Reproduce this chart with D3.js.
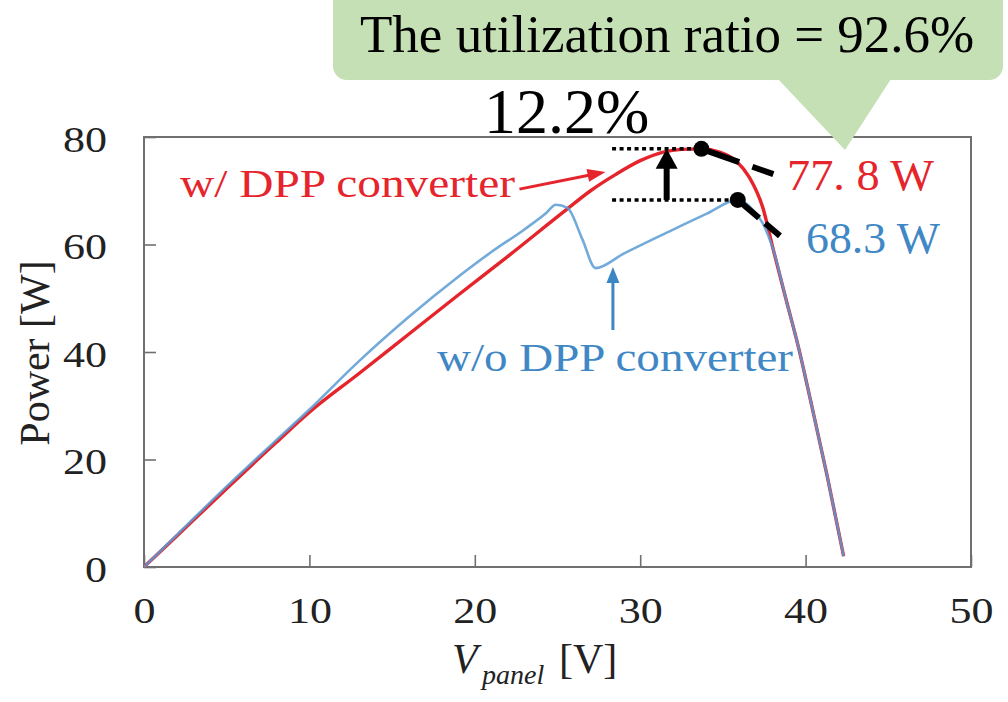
<!DOCTYPE html>
<html>
<head>
<meta charset="utf-8">
<script src="https://cdn.jsdelivr.net/npm/d3@7"></script>
<style>
  html, body { margin: 0; padding: 0; background: #fff; }
  svg { display: block; }
</style>
</head>
<body>
<svg id="chart" width="1008" height="702"></svg>
<script>
// P–V curves of the panel string (voltage in V, power in W)
const withDppV  = [0, 2, 5, 8, 10, 13, 16, 19, 22, 25.5, 27, 28.5, 30, 31.4, 32.5, 33.7, 34.8, 35.85, 36.6, 37.4, 38.05, 38.8, 39.6, 40.3, 41.3, 42.3];
const withDppP  = [0, 5.8, 14.6, 23.2, 28.8, 36, 43.3, 50.6, 57.8, 66.4, 70, 73, 75.6, 77.2, 77.7, 77.8, 77.2, 75.4, 72.5, 67, 59, 50, 40.5, 31, 17, 2];
const withoutDppV = [0, 2, 5, 8, 10, 13, 16, 19, 21, 23, 24.3, 24.9, 25.6, 26.5, 27.3, 29, 31.6, 34, 35.9, 36.8, 37.4, 38.05, 38.8, 39.6, 40.3, 41.3, 42.3];
const withoutDppP = [0, 6, 15, 23.6, 29.3, 38.3, 46.5, 54, 58.6, 62.8, 65.8, 67.4, 66.8, 61, 55.6, 58.3, 62.2, 65.7, 68.3, 66.5, 64, 59, 50, 40.5, 31, 17, 2];

// maximum power points
const mppWith = { v: 33.7, p: 77.8 };
const mppWithout = { v: 35.9, p: 68.3 };

// axis ticks
const xTicks = [0, 10, 20, 30, 40, 50];
const yTicks = [0, 20, 40, 60, 80];

// annotation texts
const calloutText = "The utilization ratio = 92.6%";
const gainText = "12.2%";
const labelWith = "w/ DPP converter";
const labelWithout = "w/o DPP converter";
const valueWith = "77. 8 W";
const valueWithout = "68.3 W";

const RED = "#e5242c";
const BLUE = "#5b9bd3";
const BLUE_TEXT = "#3f88c5";
const SERIF = "'Liberation Serif','Times New Roman',serif";

const svg = d3.select("#chart");

const x = d3.scaleLinear().domain([0, 50]).range([144, 971]);
const y = d3.scaleLinear().domain([0, 80]).range([567, 137]);

// plot frame
svg.append("rect")
  .attr("x", x(0)).attr("y", y(80))
  .attr("width", x(50) - x(0)).attr("height", y(0) - y(80))
  .attr("fill", "#fff").attr("stroke", "#707070").attr("stroke-width", 2);

// axes with inward ticks
const xAxis = svg.append("g")
  .attr("transform", `translate(0,${y(0)})`)
  .call(d3.axisBottom(x).tickValues(xTicks).tickSizeInner(-12).tickSizeOuter(0).tickPadding(30));
const yAxis = svg.append("g")
  .attr("transform", `translate(${x(0)},0)`)
  .call(d3.axisLeft(y).tickValues(yTicks).tickSizeInner(-12).tickSizeOuter(0).tickPadding(37));

[xAxis, yAxis].forEach(g => {
  g.select(".domain").remove();
  g.selectAll(".tick line").attr("stroke", "#707070").attr("stroke-width", 1.6);
  g.selectAll(".tick text")
    .attr("fill", "#222")
    .style("font-family", SERIF)
    .style("font-size", "36px")
    .attr("textLength", d => String(d).length * 22)
    .attr("lengthAdjust", "spacingAndGlyphs");
});
xAxis.selectAll(".tick text").attr("y", 30).attr("dy", "0.71em");
yAxis.selectAll(".tick text").attr("dy", "0.40em");

// axis titles
svg.append("text")
  .attr("transform", `translate(49,${353}) rotate(-90)`)
  .attr("text-anchor", "middle")
  .style("font-family", SERIF).style("font-size", "42px").attr("fill", "#222")
  .text("Power [W]");

const xt = svg.append("text")
  .attr("y", 673)
  .style("font-family", SERIF).attr("fill", "#222");
xt.append("tspan").attr("x", 452).style("font-size", "42px").style("font-style", "italic").text("V");
xt.append("tspan").attr("x", 482).attr("dy", 11).style("font-size", "28px").style("font-style", "italic").text("panel");
xt.append("tspan").attr("x", 559).attr("dy", -11).style("font-size", "42px").text("[V]");

// curves
const line = d3.line()
  .x(d => x(d[0]))
  .y(d => y(d[1]))
  .curve(d3.curveMonotoneX);

const redPts = withDppV.map((v, i) => [v, withDppP[i]]);
const bluePts = withoutDppV.map((v, i) => [v, withoutDppP[i]]);

svg.append("path").datum(redPts)
  .attr("d", line).attr("fill", "none")
  .attr("stroke", RED).attr("stroke-width", 3.4).attr("stroke-linejoin", "round");
svg.append("path").datum(bluePts)
  .attr("d", line).attr("fill", "none")
  .attr("stroke", BLUE).attr("stroke-width", 2.6).attr("stroke-opacity", 0.85)
  .attr("stroke-linejoin", "round");

// arrow helper: shaft from (x0,y0) to tip (x1,y1) with a filled head
function arrow(v0, p0, v1, p1, color, shaftW, headLen, headW) {
  const ax = x(v0), ay = y(p0), bx = x(v1), by = y(p1);
  const dx = bx - ax, dy = by - ay, len = Math.hypot(dx, dy);
  const ux = dx / len, uy = dy / len, nx = -uy, ny = ux;
  const baseX = bx - ux * headLen, baseY = by - uy * headLen;
  svg.append("line")
    .attr("x1", ax).attr("y1", ay).attr("x2", baseX + ux).attr("y2", baseY + uy)
    .attr("stroke", color).attr("stroke-width", shaftW);
  svg.append("path")
    .attr("d", `M${bx},${by}L${baseX + nx * headW / 2},${baseY + ny * headW / 2}L${baseX - nx * headW / 2},${baseY - ny * headW / 2}Z`)
    .attr("fill", color);
}

// dotted guides at the two maximum power levels
const guideStartV = 28.3;
svg.append("line")
  .attr("x1", x(guideStartV)).attr("x2", x(mppWith.v))
  .attr("y1", y(mppWith.p)).attr("y2", y(mppWith.p))
  .attr("stroke", "#000").attr("stroke-width", 3.5).attr("stroke-dasharray", "4,3.5");
svg.append("line")
  .attr("x1", x(guideStartV)).attr("x2", x(mppWithout.v))
  .attr("y1", y(mppWithout.p)).attr("y2", y(mppWithout.p))
  .attr("stroke", "#000").attr("stroke-width", 3.5).attr("stroke-dasharray", "4,3.5");

// gain arrow between the two levels
arrow(31.6, mppWithout.p, 31.6, mppWith.p, "#000", 6, 20, 22);

// leader lines from the maximum power points to their values
svg.append("line")
  .attr("x1", x(mppWith.v)).attr("y1", y(mppWith.p))
  .attr("x2", x(38.05)).attr("y2", y(73.1))
  .attr("stroke", "#000").attr("stroke-width", 6).attr("stroke-dasharray", "40,14");
svg.append("line")
  .attr("x1", x(mppWithout.v)).attr("y1", y(mppWithout.p))
  .attr("x2", x(38.45)).attr("y2", y(61.6))
  .attr("stroke", "#000").attr("stroke-width", 6).attr("stroke-dasharray", "28,8");

svg.selectAll("circle.mpp")
  .data([mppWith, mppWithout])
  .join("circle")
  .attr("class", "mpp")
  .attr("cx", d => x(d.v)).attr("cy", d => y(d.p)).attr("r", 8)
  .attr("fill", "#000");

// curve labels and their arrows
svg.append("text")
  .attr("x", 180).attr("y", 197)
  .style("font-family", SERIF).style("font-size", "40px").attr("fill", RED)
  .attr("textLength", 335).attr("lengthAdjust", "spacingAndGlyphs")
  .text(labelWith);
arrow(22.7, 70.3, 27.9, 73.5, RED, 3, 18, 13);

svg.append("text")
  .attr("x", 437).attr("y", 371)
  .style("font-family", SERIF).style("font-size", "40px").attr("fill", BLUE_TEXT)
  .attr("textLength", 356).attr("lengthAdjust", "spacingAndGlyphs")
  .text(labelWithout);
arrow(28.35, 44.1, 28.35, 55.8, "#3d86c6", 3, 16, 13);

svg.append("text")
  .attr("x", 787).attr("y", 190)
  .style("font-family", SERIF).style("font-size", "44px").attr("fill", RED)
  .attr("textLength", 147).attr("lengthAdjust", "spacingAndGlyphs")
  .text(valueWith);
svg.append("text")
  .attr("x", 806).attr("y", 253)
  .style("font-family", SERIF).style("font-size", "44px").attr("fill", BLUE_TEXT)
  .attr("textLength", 134).attr("lengthAdjust", "spacingAndGlyphs")
  .text(valueWithout);

// callout with the utilization ratio
const callout = svg.append("g");
callout.append("rect")
  .attr("x", 333).attr("y", -20).attr("width", 670).attr("height", 100).attr("rx", 14)
  .attr("fill", "#c5e0b4");
callout.append("path")
  .attr("d", "M778,79L891,79L845,150Z")
  .attr("fill", "#c5e0b4");
callout.append("text")
  .attr("x", 360).attr("y", 52)
  .style("font-family", SERIF).style("font-size", "53px").attr("fill", "#000")
  .text(calloutText);

svg.append("text")
  .attr("x", 484).attr("y", 133)
  .style("font-family", SERIF).style("font-size", "64px").attr("fill", "#000")
  .text(gainText);
</script>
</body>
</html>
